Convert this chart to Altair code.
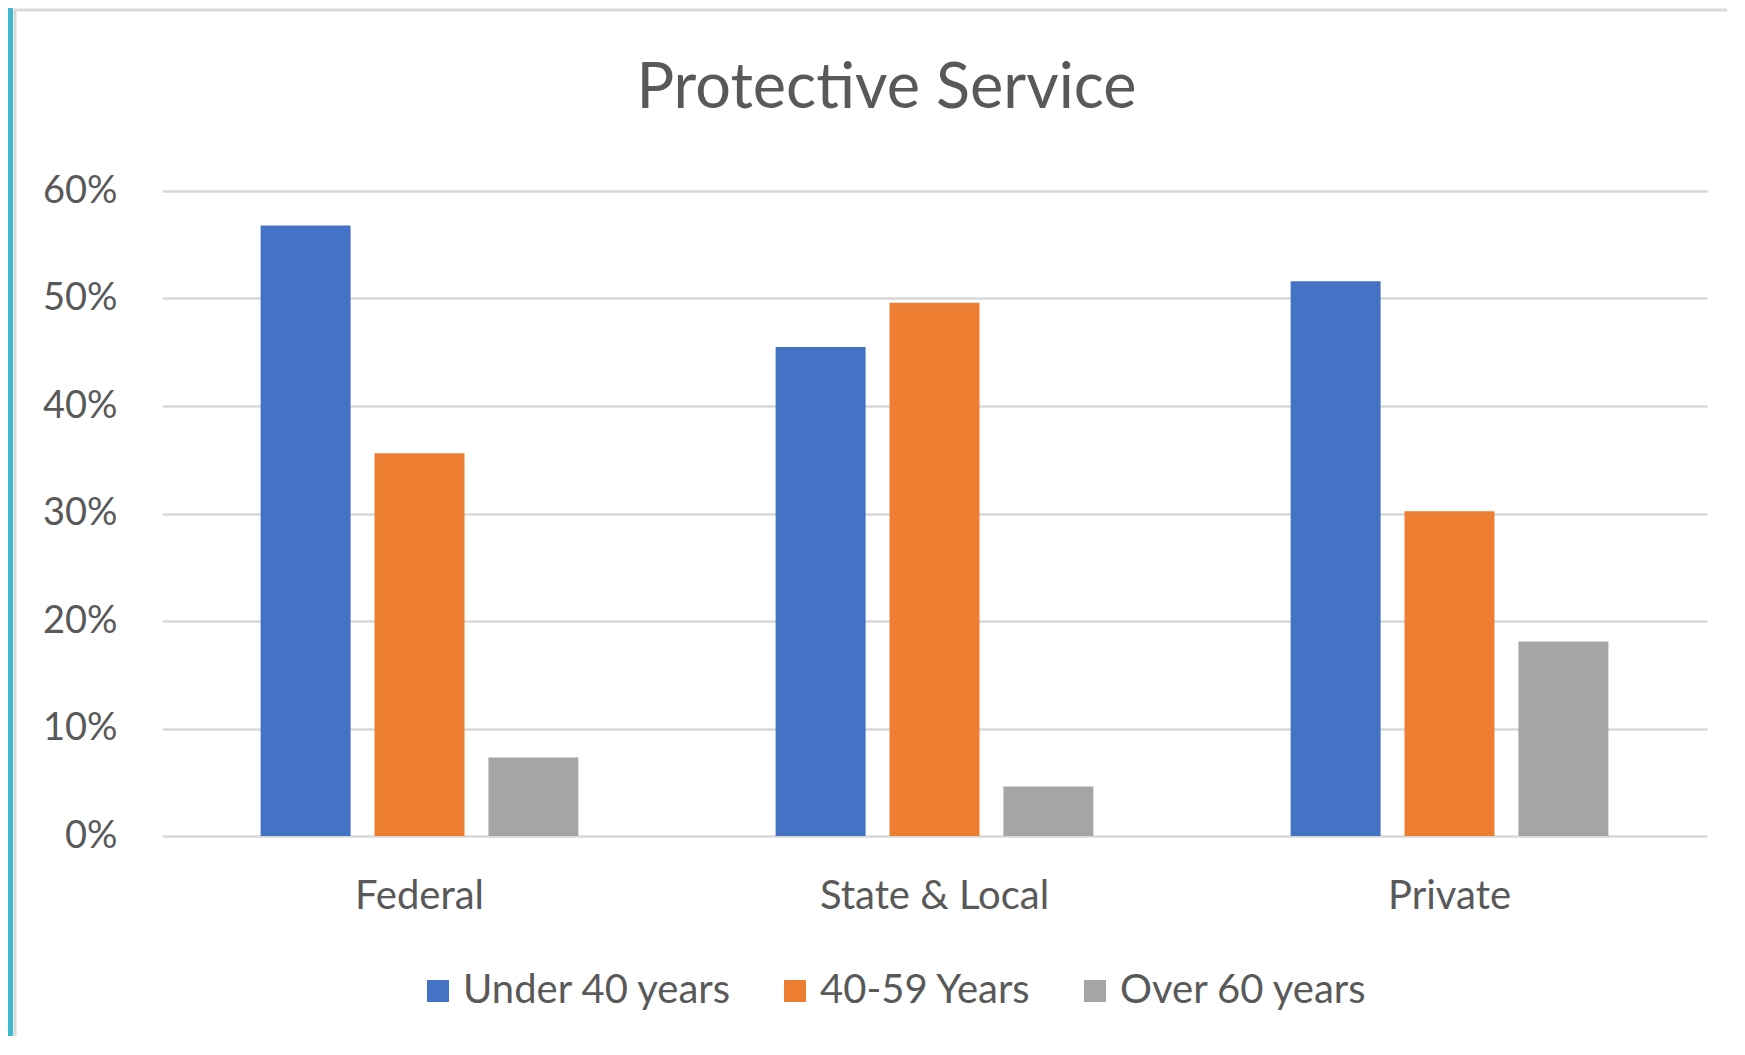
import altair as alt
import pandas as pd

categories = ["Federal", "State & Local", "Private"]
series = ["Under 40 years", "40-59 Years", "Over 60 years"]
under_40 = [0.568, 0.455, 0.516]
age_40_59 = [0.356, 0.496, 0.302]
over_60 = [0.073, 0.046, 0.181]
colors = ["#4472C4", "#ED7D31", "#A5A5A5"]
y_ticks = [0.0, 0.1, 0.2, 0.3, 0.4, 0.5, 0.6]

rows = []
for s, vals in zip(series, [under_40, age_40_59, over_60]):
    for c, v in zip(categories, vals):
        rows.append({"sector": c, "age": s, "share": v})
df = pd.DataFrame(rows)

FONT = "Lato"
TEXT = "#595959"
GRID = "#D9D9D9"

bars = alt.Chart(df).mark_bar().encode(
    x=alt.X(
        "sector:N", sort=categories, title=None,
        scale=alt.Scale(paddingInner=0.383, paddingOuter=0.1915),
        axis=alt.Axis(labelAngle=0, ticks=False, domain=False, grid=False,
                      labelFontSize=40, labelFont=FONT, labelColor=TEXT,
                      labelPadding=72, labelBaseline="alphabetic", labelLimit=500),
    ),
    xOffset=alt.XOffset("age:N", sort=series,
                        scale=alt.Scale(paddingInner=0.21, paddingOuter=0)),
    y=alt.Y(
        "share:Q", title=None, scale=alt.Scale(domain=[0, 0.6]),
        axis=alt.Axis(format=".0%", values=y_ticks, ticks=False, domain=False,
                      grid=True, gridColor=GRID, gridWidth=2.5,
                      labelFontSize=38, labelFont=FONT, labelColor=TEXT,
                      labelPadding=45),
    ),
    color=alt.Color(
        "age:N", sort=series,
        scale=alt.Scale(domain=series, range=colors),
        legend=alt.Legend(orient="none", legendX=256, legendY=780,
                          direction="horizontal", title=None,
                          symbolType="square", symbolSize=484,
                          symbolStrokeWidth=0, labelFontSize=40,
                          labelFont=FONT, labelColor=TEXT, labelOffset=5,
                          columnPadding=43, labelLimit=500),
    ),
)

one = pd.DataFrame({"k": [0]})
teal = alt.Chart(one).mark_rect(color="#3FB8D0").encode(
    x=alt.value(-154), x2=alt.value(-149), y=alt.value(-183), y2=alt.value(900)
)
frame_left = alt.Chart(one).mark_rule(color=GRID, strokeWidth=3).encode(
    x=alt.value(-147), y=alt.value(-181), y2=alt.value(900)
)
frame_top = alt.Chart(one).mark_rule(color=GRID, strokeWidth=3).encode(
    x=alt.value(-148), x2=alt.value(1600), y=alt.value(-181)
)

chart = alt.layer(teal, frame_left, frame_top, bars).properties(
    width=1545, height=645,
    title=alt.TitleParams("Protective Service", fontSize=63, font=FONT,
                          color=TEXT, fontWeight="normal", anchor="middle",
                          dx=-48, offset=-163, baseline="alphabetic", frame="group"),
    autosize=alt.AutoSizeParams(type="none"),
    padding={"left": 154, "top": 183, "right": 20, "bottom": 200},
).configure_view(stroke=None)

chart.save("out.html", embed_options={"renderer": "svg", "actions": False})
